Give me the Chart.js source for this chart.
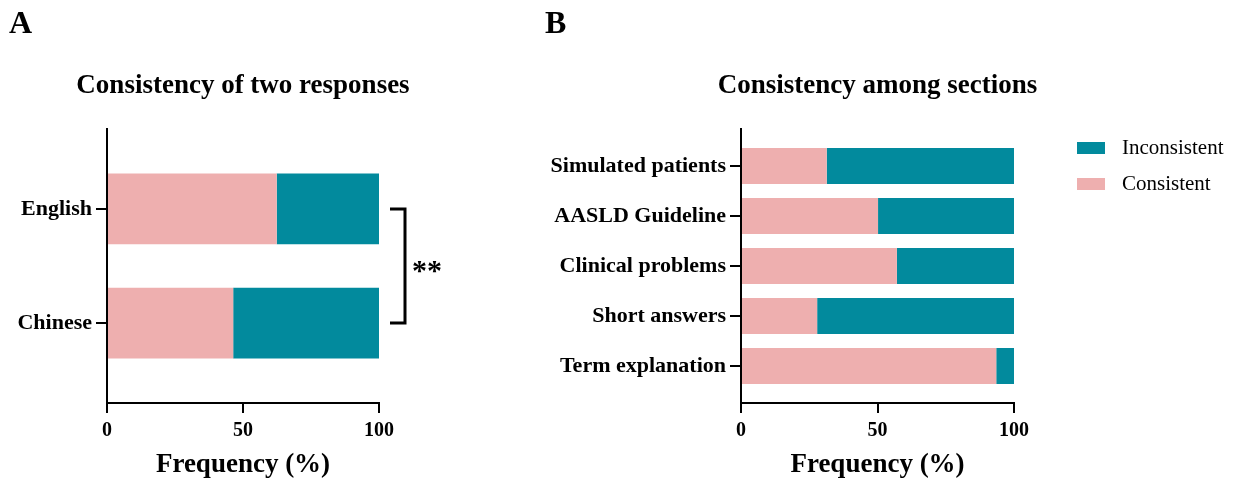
<!DOCTYPE html>
<html>
<head>
<meta charset="utf-8">
<script src="https://cdn.jsdelivr.net/npm/chart.js@4.4.1/dist/chart.umd.min.js"></script>
<style>
    html, body { margin: 0; padding: 0; background: #ffffff; }
    #wrap { position: relative; width: 1236px; height: 481px; overflow: hidden; }
    #chartA { position: absolute; left: 0; top: 0; }
    #chartB { position: absolute; left: 530px; top: 0; }
</style>
</head>
<body>
<div id="wrap">
    <canvas id="chartA" width="530" height="481"></canvas>
    <canvas id="chartB" width="706" height="481"></canvas>
</div>
<script>
// Panel A: consistency of two responses by language
const languages = ['English', 'Chinese'];
const languageConsistent = [62.4, 46.4];
const languageInconsistent = [37.6, 53.6];

// Panel B: consistency among question sections
const sections = ['Simulated patients', 'AASLD Guideline', 'Clinical problems', 'Short answers', 'Term explanation'];
const sectionConsistent = [31.4, 50.2, 57.1, 27.9, 93.5];
const sectionInconsistent = [68.6, 49.8, 42.9, 72.1, 6.5];

const xTicks = [0, 50, 100];

const PINK = '#EEAFAF';
const TEAL = '#028A9D';
const SERIF = "'Liberation Serif', 'Times New Roman', serif";

// each category sits at an integer position on a linear index axis
function toPoints(values) {
    return values.map((v, i) => ({ x: v, y: i + 1 }));
}

// panel letter and title, title centred over the plot area
const panelText = {
    id: 'panelText',
    afterDraw(chart, args, opts) {
        const ctx = chart.ctx;
        const area = chart.chartArea;
        ctx.save();
        ctx.fillStyle = '#000';
        ctx.textBaseline = 'alphabetic';
        ctx.textAlign = 'left';
        ctx.font = 'bold 32px ' + SERIF;
        ctx.fillText(opts.letter, opts.letterX, 33);
        ctx.textAlign = 'center';
        ctx.font = 'bold 27px ' + SERIF;
        ctx.fillText(opts.title, (area.left + area.right) / 2, 93);
        ctx.restore();
    }
};

// significance bracket between the two language bars
const sigBracket = {
    id: 'sigBracket',
    afterDraw(chart) {
        const y = chart.scales.y;
        const x = chart.scales.x;
        const y1 = y.getPixelForValue(1);
        const y2 = y.getPixelForValue(2);
        const bx = x.right + 26;
        const ctx = chart.ctx;
        ctx.save();
        ctx.strokeStyle = '#000';
        ctx.lineWidth = 3;
        ctx.beginPath();
        ctx.moveTo(bx - 15, y1);
        ctx.lineTo(bx, y1);
        ctx.lineTo(bx, y2);
        ctx.lineTo(bx - 15, y2);
        ctx.stroke();
        ctx.font = 'bold 30px ' + SERIF;
        ctx.fillStyle = '#000';
        ctx.textAlign = 'left';
        ctx.textBaseline = 'alphabetic';
        ctx.fillText('**', bx + 7, (y1 + y2) / 2 + 14);
        ctx.restore();
    }
};

// legend to the right of panel B (inconsistent on top)
const sideLegend = {
    id: 'sideLegend',
    afterDraw(chart) {
        const ctx = chart.ctx;
        const sets = chart.data.datasets.slice().reverse();
        ctx.save();
        ctx.font = '21px ' + SERIF;
        ctx.textBaseline = 'middle';
        ctx.textAlign = 'left';
        sets.forEach((ds, i) => {
            const cy = 148 + i * 36;
            ctx.fillStyle = ds.backgroundColor;
            ctx.fillRect(547, cy - 6, 28, 12);
            ctx.fillStyle = '#000';
            ctx.fillText(ds.label, 592, cy);
        });
        ctx.restore();
    }
};

function makeConfig(labels, consistent, inconsistent, opts) {
    return {
        type: 'bar',
        data: {
            datasets: [{
                label: 'Consistent',
                data: toPoints(consistent),
                backgroundColor: PINK,
                borderWidth: 0,
                categoryPercentage: opts.catPct,
                barPercentage: opts.barPct
            }, {
                label: 'Inconsistent',
                data: toPoints(inconsistent),
                backgroundColor: TEAL,
                borderWidth: 0,
                categoryPercentage: opts.catPct,
                barPercentage: opts.barPct
            }]
        },
        options: {
            indexAxis: 'y',
            responsive: false,
            animation: false,
            layout: {
                padding: { left: 0, right: opts.padRight, top: 129, bottom: 0 }
            },
            plugins: {
                legend: { display: false },
                tooltip: { enabled: false },
                title: { display: false },
                panelText: { letter: opts.letter, letterX: opts.letterX, title: opts.title }
            },
            scales: {
                x: {
                    type: 'linear',
                    stacked: true,
                    min: 0,
                    max: 100,
                    afterBuildTicks: function(scale) {
                        scale.ticks = xTicks.map(v => ({ value: v }));
                    },
                    afterFit: function(scale) {
                        scale.height = 78;
                    },
                    border: { display: true, color: '#000', width: 2 },
                    grid: {
                        drawOnChartArea: false,
                        drawTicks: true,
                        tickLength: 10,
                        color: '#000',
                        lineWidth: 2
                    },
                    ticks: {
                        color: '#000',
                        padding: 6,
                        maxRotation: 0,
                        font: { family: SERIF, size: 20, weight: 'bold' }
                    },
                    title: {
                        display: true,
                        text: 'Frequency (%)',
                        color: '#000',
                        font: { family: SERIF, size: 27, weight: 'bold' },
                        padding: { top: 0, bottom: 0 }
                    }
                },
                y: {
                    type: 'linear',
                    stacked: true,
                    reverse: true,
                    offset: false,
                    min: opts.yMin,
                    max: opts.yMax,
                    afterBuildTicks: function(scale) {
                        scale.ticks = labels.map((l, i) => ({ value: i + 1 }));
                    },
                    afterFit: function(scale) {
                        scale.width = opts.yWidth;
                    },
                    border: { display: true, color: '#000', width: 2 },
                    grid: {
                        offset: false,
                        drawOnChartArea: false,
                        drawTicks: true,
                        tickLength: 11,
                        color: '#000',
                        lineWidth: 2
                    },
                    ticks: {
                        color: '#000',
                        padding: 4,
                        font: { family: SERIF, size: 22, weight: 'bold' },
                        callback: function(value) {
                            return labels[value - 1];
                        }
                    }
                }
            }
        },
        plugins: opts.plugins
    };
}

document.addEventListener('DOMContentLoaded', function() {
    new Chart(document.getElementById('chartA'), makeConfig(languages, languageConsistent, languageInconsistent, {
        title: 'Consistency of two responses',
        letter: 'A',
        letterX: 9,
        yWidth: 107,
        padRight: 151,
        yMin: 0.3,
        yMax: 2.7,
        catPct: 1,
        barPct: 0.62,
        plugins: [panelText, sigBracket]
    }));

    new Chart(document.getElementById('chartB'), makeConfig(sections, sectionConsistent, sectionInconsistent, {
        title: 'Consistency among sections',
        letter: 'B',
        letterX: 15,
        yWidth: 211,
        padRight: 222,
        yMin: 0.26,
        yMax: 5.74,
        catPct: 0.8,
        barPct: 0.9,
        plugins: [panelText, sideLegend]
    }));
});
</script>
</body>
</html>
